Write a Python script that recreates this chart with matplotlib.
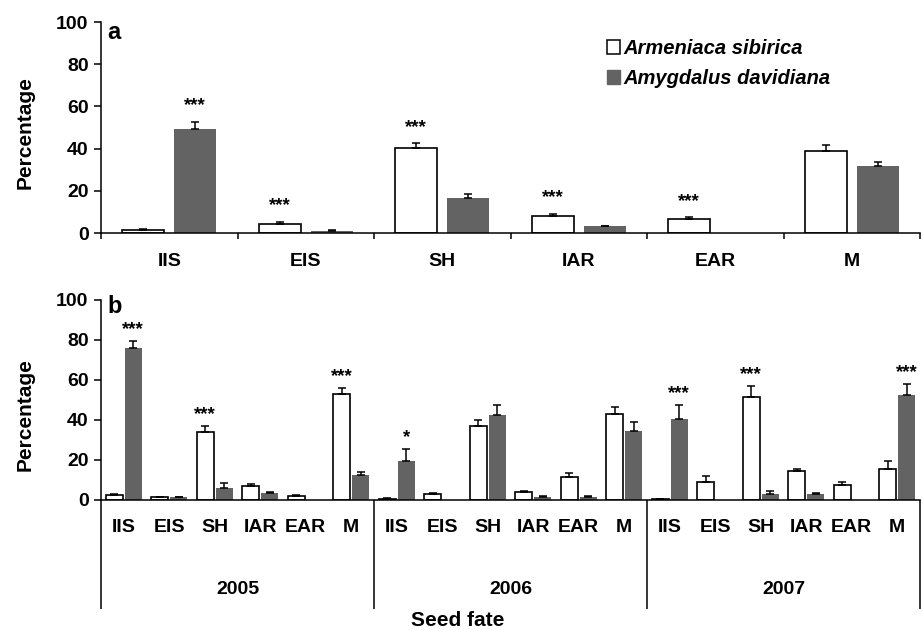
import numpy as np
import matplotlib
matplotlib.use('Agg')
import matplotlib.pyplot as plt
from matplotlib.patches import Patch
from matplotlib.font_manager import FontProperties

plt.rcParams['font.family'] = ['Liberation Sans', 'DejaVu Sans']
plt.rcParams['font.weight'] = 'bold'

fates = ['IIS', 'EIS', 'SH', 'IAR', 'EAR', 'M']
years = ['2005', '2006', '2007']
species = ['Armeniaca sibirica', 'Amygdalus davidiana']

# panel a - pooled
sib_a = [1.5, 4.4, 40.3, 8.2, 6.8, 38.9]
sib_a_err = [0.3, 0.9, 2.2, 0.8, 0.6, 2.8]
amy_a = [49.3, 1.0, 16.4, 3.1, 0.0, 31.7]
amy_a_err = [3.4, 0.2, 2.1, 0.3, 0.0, 2.1]
stars_a = ['***', '***', '***', '***', '***', '']

# panel b - by year (2005, 2006, 2007 x 6 fates)
sib_b = [2.3, 1.3, 33.8, 7.0, 2.2, 53.2,
         0.7, 2.8, 37.0, 3.9, 11.4, 43.0,
         0.5, 9.0, 51.7, 14.7, 7.5, 15.3]
sib_b_err = [0.7, 0.4, 3.3, 0.8, 0.3, 3.0,
             0.2, 0.5, 3.0, 0.8, 2.3, 3.3,
             0.2, 3.0, 5.3, 0.7, 1.6, 4.0]
amy_b = [75.8, 1.3, 6.2, 3.3, 0.2, 12.3,
         19.3, 0.2, 42.4, 1.6, 1.6, 34.7,
         40.7, 0.2, 3.0, 3.0, 0.2, 52.5]
amy_b_err = [3.7, 0.3, 2.3, 0.8, 0.0, 1.5,
             6.0, 0.0, 5.3, 0.5, 0.5, 4.5,
             7.0, 0.0, 1.5, 0.5, 0.0, 5.3]
stars_b = ['***', '', '***', '', '', '***',
           '*', '', '', '', '', '',
           '***', '', '***', '', '', '***']

GRAY = '#636363'
W, H = 922, 630


def px_rect(l, t, r, b):
    return [l / W, 1 - b / H, (r - l) / W, (b - t) / H]


def draw_bars(ax, sib, sib_err, amy, amy_err, stars, off, width, cap, gap):
    x = np.arange(len(sib))
    sib, sib_err = np.array(sib), np.array(sib_err)
    amy, amy_err = np.array(amy), np.array(amy_err)
    ax.bar(x - off, sib, width, color='white', edgecolor='black', linewidth=1.2, zorder=2)
    ax.bar(x + off, amy, width, color=GRAY, edgecolor='none', zorder=2)
    ax.errorbar(x - off, sib, yerr=[np.zeros(len(x)), sib_err], fmt='none',
                ecolor='black', elinewidth=1.1, capsize=cap, capthick=1.1, zorder=3)
    m = amy_err > 0
    ax.errorbar(x[m] + off, amy[m], yerr=[np.zeros(m.sum()), amy_err[m]], fmt='none',
                ecolor='black', elinewidth=1.1, capsize=cap, capthick=1.1, zorder=3)
    # significance stars go above the taller bar of the pair
    for i, s in enumerate(stars):
        if not s:
            continue
        ts = sib[i] + sib_err[i]
        ta = amy[i] + amy_err[i]
        if ta > ts:
            ax.text(x[i] + off, ta + gap, s, ha='center', va='baseline', fontsize=13.5)
        else:
            ax.text(x[i] - off, ts + gap, s, ha='center', va='baseline', fontsize=13.5)


def style_y(ax):
    ax.set_ylim(0, 100)
    ax.set_yticks(np.arange(0, 101, 20))
    ax.tick_params(axis='y', direction='out', length=5, width=1.1, pad=4, labelsize=14)
    for sp in ['top', 'right']:
        ax.spines[sp].set_visible(False)
    for sp in ['left', 'bottom']:
        ax.spines[sp].set_linewidth(1.1)


fig = plt.figure(figsize=(W / 100, H / 100), dpi=100)

# ---- panel a
ax1 = fig.add_axes(px_rect(101, 22, 920, 233))
draw_bars(ax1, sib_a, sib_a_err, amy_a, amy_a_err, stars_a, 0.19, 0.31, 3.0, 5.5)
style_y(ax1)
ax1.set_xlim(-0.5, 5.5)
ax1.set_xticks(np.arange(-0.5, 6, 1))
ax1.set_xticklabels([])
ax1.tick_params(axis='x', direction='out', length=4, width=1.1)
for i, f in enumerate(fates):
    ax1.text(i, (233 - 266) / 211, f, transform=ax1.get_xaxis_transform(),
             ha='center', va='baseline', fontsize=14)
ax1.text(6 / 819, (233 - 39) / 211, 'a', transform=ax1.transAxes, fontsize=17,
         ha='left', va='baseline')

leg = ax1.legend(handles=[Patch(facecolor='white', edgecolor='black', linewidth=1.1),
                          Patch(facecolor=GRAY, edgecolor=GRAY)],
                 labels=species, loc='upper left', frameon=False,
                 bbox_to_anchor=(607 / W, 1 - 39 / H), bbox_transform=fig.transFigure,
                 prop=FontProperties(family=['Liberation Sans', 'DejaVu Sans'],
                                     style='italic', weight='bold', size=14.5),
                 handlelength=0.63, handleheight=0.63, handletextpad=0.2,
                 labelspacing=0.55, borderpad=0, borderaxespad=0)

# ---- panel b
ax2 = fig.add_axes(px_rect(101, 300, 920, 500))
draw_bars(ax2, sib_b, sib_b_err, amy_b, amy_b_err, stars_b, 0.21, 0.38, 3.2, 3.5)
style_y(ax2)
ax2.set_xlim(-0.5, 17.5)
ax2.set_xticks([])
ax2.spines['left'].set_bounds(0, 100)
xt = ax2.get_xaxis_transform()
for i in range(18):
    ax2.text(i, (500 - 532) / 200, fates[i % 6], transform=xt,
             ha='center', va='baseline', fontsize=14)
for k, yr in enumerate(years):
    ax2.text(6 * k + 2.5, (500 - 594) / 200, yr, transform=xt,
             ha='center', va='baseline', fontsize=14)
# year separators hanging below the axis
for b in [-0.5, 5.5, 11.5, 17.5]:
    ax2.plot([b, b], [0, (500 - 609) / 200], transform=xt, color='black',
             lw=1.1, clip_on=False, solid_capstyle='butt')
ax2.text(6 / 819, (500 - 313) / 200, 'b', transform=ax2.transAxes, fontsize=17,
         ha='left', va='baseline')

fig.text(25 / W, 1 - 133 / H, 'Percentage', rotation=90, ha='center', va='center', fontsize=15)
fig.text(25 / W, 1 - 415 / H, 'Percentage', rotation=90, ha='center', va='center', fontsize=15)
fig.text(458 / W, 1 - 626.5 / H, 'Seed fate', ha='center', va='baseline', fontsize=15)

fig.savefig('out.png', dpi=100)
